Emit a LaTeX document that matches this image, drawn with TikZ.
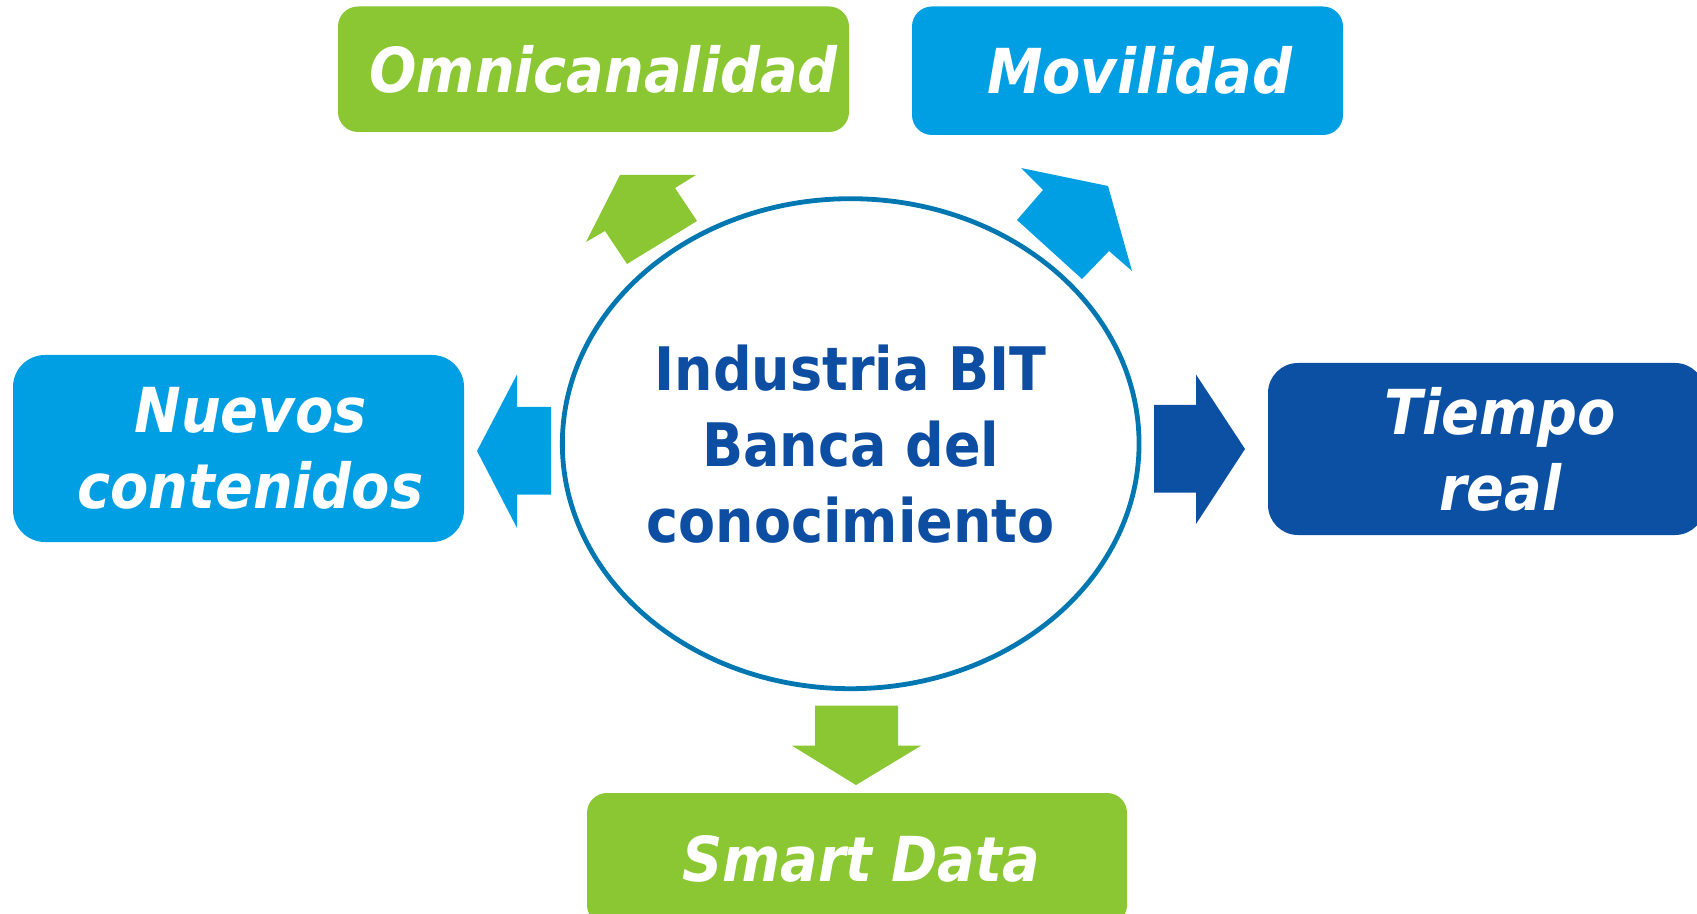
\documentclass[tikz,border=0pt]{standalone}
\usepackage{fontspec}
\setmainfont{DejaVu Sans}
\newfontfamily\hubfont{DejaVu Sans Condensed}
\usetikzlibrary{shapes.geometric}

\definecolor{limegreen}{HTML}{8AC732}
\definecolor{skyblue}{HTML}{009FE3}
\definecolor{navyblue}{HTML}{0B50A3}
\definecolor{ringblue}{HTML}{0077B0}
\definecolor{hubtext}{HTML}{0D4EA2}

\tikzset{
  tagbox/.style={rounded corners=10pt, inner sep=0pt},
  taglabel/.style={inner sep=0pt, text=white, align=center,
    font=\hubfont\fontsize{31}{38}\selectfont\bfseries\itshape},
  blockarrow/.style={draw=none}
}

\begin{document}
\begin{tikzpicture}[x=0.5pt,y=-0.5pt]%
    \useasboundingbox (0,0) rectangle (1697,914);
    \clip (0,0) rectangle (1697,914);
    % centre
    \node (hub) [ellipse, draw=ringblue, line width=2.4pt, minimum width=286pt, minimum height=245pt,
        inner sep=0pt, align=center, text=hubtext, font=\hubfont\fontsize{30}{38}\selectfont\bfseries]
        at (850.7,443.7) {Industria BIT\\Banca del\\conocimiento};
    % boxes
    \node (omni) [tagbox, fill=limegreen, minimum width=255.5pt, minimum height=62.75pt] at (593.5,69.25) {};
    \node (movil) [tagbox, fill=skyblue, minimum width=215.5pt, minimum height=64.25pt] at (1127.5,70.75) {};
    \node (nuevos) [tagbox, rounded corners=16pt, fill=skyblue, minimum width=225.5pt, minimum height=93.5pt] at (238.5,448.5) {};
    \node (tiempo) [tagbox, rounded corners=15pt, fill=navyblue, minimum width=218.5pt, minimum height=86pt] at (1486.5,449) {};
    \node (smart) [tagbox, fill=limegreen, minimum width=270pt, minimum height=66pt] at (857,859) {};
    \node (omnitext) [taglabel] at ([xshift=5pt]omni.center) {Omnicanalidad};
    \node (moviltext) [taglabel] at ([xshift=6pt]movil.center) {Movilidad};
    \node (nuevostext) [taglabel] at ([xshift=6pt]nuevos.center) {Nuevos\\contenidos};
    \node (tiempotext) [taglabel] at ([xshift=7pt]tiempo.center) {Tiempo\\real};
    \node (smarttext) [taglabel] at ([xshift=2pt]smart.center) {Smart Data};
    % arrows
    \begin{scope}[blockarrow]
        \fill[limegreen] (620,175)--(696,175)--(675,188)--(697,221)--(627,264)--(605,231)--(586,242)--cycle;
        \fill[skyblue] (1021,168)--(1108,186)--(1132,271)--(1109,251)--(1082,279)--(1017,220)--(1043,190)--cycle;
        \fill[skyblue] (477,451)--(517,374.5)--(517,407)--(551,407)--(551,494.6)--(517,494.6)--(517,528)--cycle;
        \fill[navyblue] (1245,449)--(1196,374.5)--(1196,405)--(1154,405)--(1154,492.5)--(1196,492.5)--(1196,524)--cycle;
        \fill[limegreen] (856,785)--(792,745.7)--(815,745.7)--(815,705.6)--(898,705.6)--(898,745.7)--(921,745.7)--cycle;
    \end{scope}
\end{tikzpicture}
\end{document}
